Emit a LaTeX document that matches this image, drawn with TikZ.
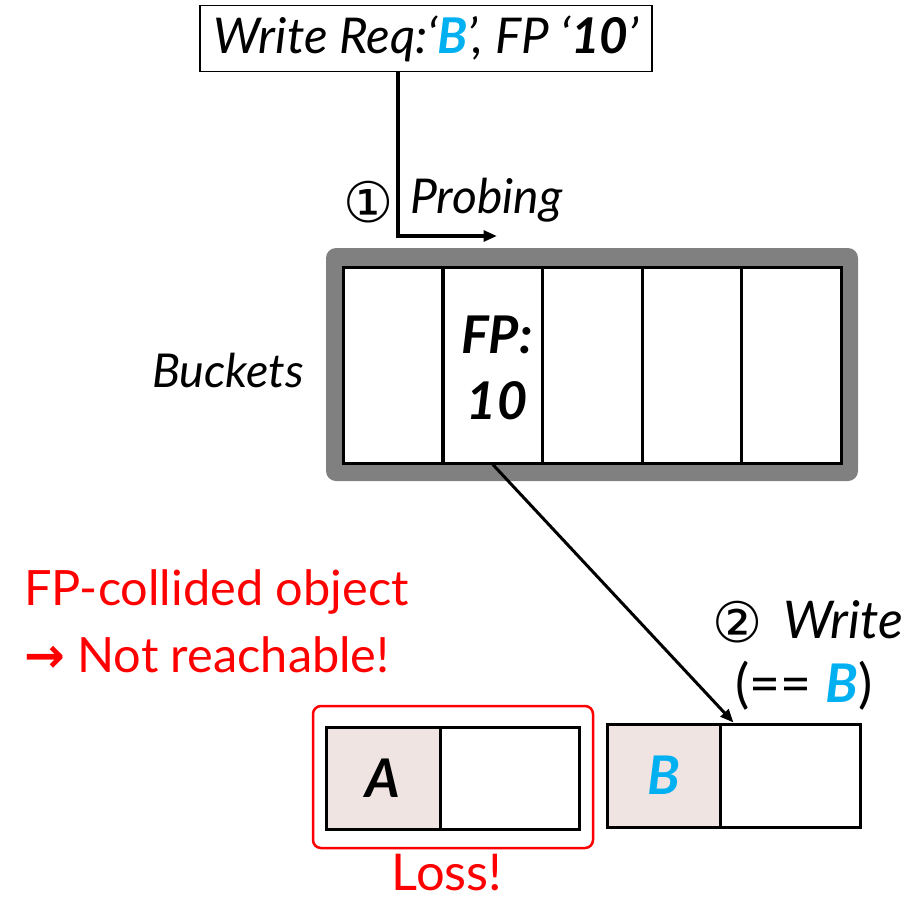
\documentclass[tikz,border=0pt]{standalone}
\usepackage{fontspec}
\setmainfont{Lato}
\newfontfamily\symfont{DejaVu Sans}
\usetikzlibrary{arrows.meta,calc}
\definecolor{ablue}{HTML}{00B0F0}
\definecolor{ared}{HTML}{FF0000}
\definecolor{cellfill}{HTML}{EFE4E1}
\definecolor{framegray}{HTML}{808080}
\begin{document}
\begin{tikzpicture}[x=0.75pt,y=-0.75pt,
  bigtxt/.style={font=\fontsize{36.5}{44}\selectfont, inner sep=0pt},
  cell/.style={draw=black, line width=3*0.75pt, fill=white, inner sep=0pt},
  conn/.style={line width=3*0.75pt, -{Triangle[length=10pt,width=8pt]}},
]
\useasboundingbox (0,0) rectangle (912,900);
% title
\node[draw, line width=1.6*0.75pt, minimum width=452*0.75pt, minimum height=66*0.75pt, inner sep=0pt,
      font=\fontsize{37}{44}\selectfont\itshape] (title) at (426,38.5)
  {Write Req:‘\textbf{\color{ablue}B}’, FP ‘\textbf{10}’};
% buckets frame
\node[fill=framegray, rounded corners=10*0.75pt, minimum width=532*0.75pt, minimum height=233*0.75pt, inner sep=0pt] (frame) at (592,364.5) {};
\foreach \i/\cx in {1/393,2/492.8,3/592.5,4/692,5/791.5}{
  \node[cell, minimum width=99.6*0.75pt, minimum height=196*0.75pt] (b\i) at (\cx,365) {};
}
\node[bigtxt, font=\fontsize{39}{49}\selectfont\bfseries\itshape, align=center] (fp) at (497,368) {FP:\\10};
\node[bigtxt, font=\fontsize{35}{42}\selectfont\itshape] (blabel) at (228,370) {Buckets};
% probing
\coordinate (pcorner) at (398,236);
\coordinate (pend) at (497,236);
\draw[line width=3.5*0.75pt, -{Triangle[length=10pt,width=8pt]}] (title.south -| pcorner) -- (pcorner) -- (pend);
\node[bigtxt, font=\fontsize{42}{48}\selectfont\symfont] (c1) at (369,202) {①};
\node[bigtxt, font=\fontsize{36}{42}\selectfont\itshape, anchor=west] (probe) at (410,200) {Probing};
% red text
\node[bigtxt, text=ared, anchor=west] (coll) at (24,592) {FP-collided object};
\node[bigtxt, text=ared, anchor=west] (reach) at (24,655) {{\symfont\bfseries →} Not reachable!};
% A box
\node[draw=ared, line width=2.5*0.75pt, rounded corners=8*0.75pt, minimum width=280*0.75pt, minimum height=142*0.75pt] (loss) at (453,777) {};
\node[cell, fill=cellfill, minimum width=114*0.75pt, minimum height=102*0.75pt] (a1) at (383,778) {};
\node[cell, minimum width=139*0.75pt, minimum height=102*0.75pt] (a2) at (509.5,778) {};
\node[bigtxt, font=\fontsize{40}{48}\selectfont\bfseries\itshape] at (a1) {A};
\node[bigtxt, text=ared, font=\fontsize{38}{44}\selectfont] (losst) at (447,873) {Loss!};
% B box
\node[cell, fill=cellfill, minimum width=113*0.75pt, minimum height=103*0.75pt] (bb1) at (663.5,775.5) {};
\node[cell, minimum width=140*0.75pt, minimum height=103*0.75pt] (bb2) at (790,775.5) {};
\node[bigtxt, font=\fontsize{40}{48}\selectfont\bfseries\itshape, text=ablue] at (bb1) {B};
% write
\node[bigtxt, font=\fontsize{42}{48}\selectfont\symfont] (c2) at (738,622) {②};
\node[bigtxt, font=\fontsize{39}{46}\selectfont\itshape, anchor=west] (wr) at (783,620) {Write};
\node[bigtxt, font=\fontsize{40}{48}\selectfont] (eq) at (804,686) {(== {\bfseries\itshape\color{ablue}B})};
\draw[conn] (b2.south) -- ($(bb2.north west)+(15,0)$);
\end{tikzpicture}
\end{document}
